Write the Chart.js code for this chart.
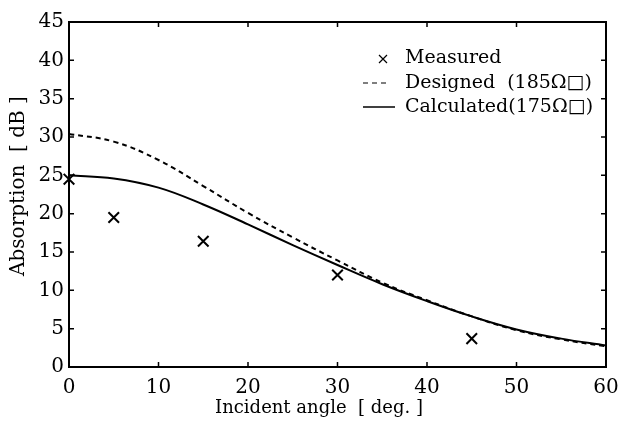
<!DOCTYPE html>
<html lang="en">
<head>
    <meta charset="UTF-8">
    <title>Absorption vs Incident angle</title>
    <script src="https://cdn.jsdelivr.net/npm/chart.js"></script>
    <style>
        body { margin: 0; background: #fff; }
        #wrap { width: 628px; height: 432px; }
    </style>
</head>
<body>
    <div id="wrap"><canvas id="absChart"></canvas></div>

    <script>
        // measured points
        const measuredAngle = [0, 5, 15, 30, 45];
        const measuredDb = [24.5, 19.5, 16.4, 12.0, 3.7];

        // curves, read every 5 degrees
        const curveAngle = [0, 5, 10, 15, 20, 25, 30, 35, 40, 45, 50, 55, 60];
        const designedDb = [30.4, 29.4, 27.0, 23.6, 20.1, 16.9, 13.9, 11.0, 8.7, 6.6, 4.8, 3.6, 2.7];
        const calculatedDb = [25.0, 24.6, 23.4, 21.2, 18.6, 15.9, 13.3, 10.8, 8.6, 6.6, 4.9, 3.7, 2.8];

        const xTicks = [0, 10, 20, 30, 40, 50, 60];
        const yTicks = [0, 5, 10, 15, 20, 25, 30, 35, 40, 45];

        const xTitle = "Incident angle  [ deg. ]";
        const yTitle = "Absorption  [ dB ]";

        const serif = '"DejaVu Serif", "Liberation Serif", serif';
        const toPts = (xs, ys) => xs.map((x, i) => ({ x: x, y: ys[i] }));

        // frame, inward ticks on all sides, axis titles and the legend
        const framePlugin = {
            id: "frame",
            afterDraw(chart) {
                const ctx = chart.ctx;
                const a = chart.chartArea;
                const xs = chart.scales.x, ys = chart.scales.y;
                ctx.save();
                ctx.strokeStyle = "#000";
                ctx.lineWidth = 2;
                ctx.strokeRect(a.left, a.top, a.right - a.left, a.bottom - a.top);
                ctx.lineWidth = 1.5;
                ctx.beginPath();
                xTicks.forEach(v => {
                    const px = xs.getPixelForValue(v);
                    ctx.moveTo(px, a.bottom); ctx.lineTo(px, a.bottom - 5);
                    ctx.moveTo(px, a.top); ctx.lineTo(px, a.top + 5);
                });
                yTicks.forEach(v => {
                    const py = ys.getPixelForValue(v);
                    ctx.moveTo(a.left, py); ctx.lineTo(a.left + 5, py);
                    ctx.moveTo(a.right, py); ctx.lineTo(a.right - 5, py);
                });
                ctx.stroke();

                ctx.fillStyle = "#000";
                ctx.textBaseline = "middle";
                ctx.textAlign = "center";

                // axis titles
                ctx.font = "18px " + serif;
                ctx.fillText(xTitle, 319, 408);
                ctx.save();
                ctx.translate(19, 186);
                ctx.rotate(-Math.PI / 2);
                ctx.font = "20px " + serif;
                ctx.fillText(yTitle, 0, 0);
                ctx.restore();

                // legend
                ctx.font = "19px " + serif;
                ctx.textAlign = "left";
                const tx = 405;
                ctx.lineWidth = 1.2;
                ctx.beginPath();
                ctx.moveTo(379, 55); ctx.lineTo(387, 63);
                ctx.moveTo(387, 55); ctx.lineTo(379, 63);
                ctx.stroke();
                ctx.fillText("Measured", tx, 58);

                ctx.setLineDash([5, 4]);
                ctx.beginPath();
                ctx.moveTo(363, 83); ctx.lineTo(390, 83);
                ctx.stroke();
                ctx.setLineDash([]);
                ctx.fillText("Designed  (185\u03A9\u25A1)", tx, 83);

                ctx.lineWidth = 1.5;
                ctx.beginPath();
                ctx.moveTo(363, 107); ctx.lineTo(395, 107);
                ctx.stroke();
                ctx.fillText("Calculated(175\u03A9\u25A1)", tx, 107);
                ctx.restore();
            }
        };

        new Chart(document.getElementById("absChart").getContext("2d"), {
            type: "scatter",
            data: {
                datasets: [
                    {
                        label: "Measured",
                        data: toPts(measuredAngle, measuredDb),
                        pointStyle: "crossRot",
                        pointRadius: 7.5,
                        borderColor: "#000",
                        borderWidth: 2,
                        showLine: false,
                        clip: false
                    },
                    {
                        label: "Designed (185\u03A9\u25A1)",
                        data: toPts(curveAngle, designedDb),
                        showLine: true,
                        borderColor: "#000",
                        borderWidth: 2,
                        borderDash: [5, 4],
                        pointRadius: 0,
                        tension: 0.4
                    },
                    {
                        label: "Calculated(175\u03A9\u25A1)",
                        data: toPts(curveAngle, calculatedDb),
                        showLine: true,
                        borderColor: "#000",
                        borderWidth: 2,
                        pointRadius: 0,
                        tension: 0.4
                    }
                ]
            },
            options: {
                responsive: true,
                maintainAspectRatio: false,
                animation: false,
                layout: { padding: { top: 22, right: 22, left: 0, bottom: 0 } },
                plugins: {
                    legend: { display: false },
                    tooltip: { enabled: false }
                },
                scales: {
                    x: {
                        type: "linear",
                        min: 0, max: 60,
                        afterFit: s => { s.height = 65; },
                        afterBuildTicks: s => { s.ticks = xTicks.map(v => ({ value: v })); },
                        grid: { display: false, drawTicks: false },
                        border: { display: false },
                        ticks: { color: "#000", padding: 9, font: { family: serif, size: 20 } }
                    },
                    y: {
                        type: "linear",
                        min: 0, max: 45,
                        afterFit: s => { s.width = 69; },
                        afterBuildTicks: s => { s.ticks = yTicks.map(v => ({ value: v })); },
                        grid: { display: false, drawTicks: false },
                        border: { display: false },
                        ticks: { color: "#000", padding: 5, font: { family: serif, size: 20 } }
                    }
                }
            },
            plugins: [framePlugin]
        });
    </script>
</body>
</html>
